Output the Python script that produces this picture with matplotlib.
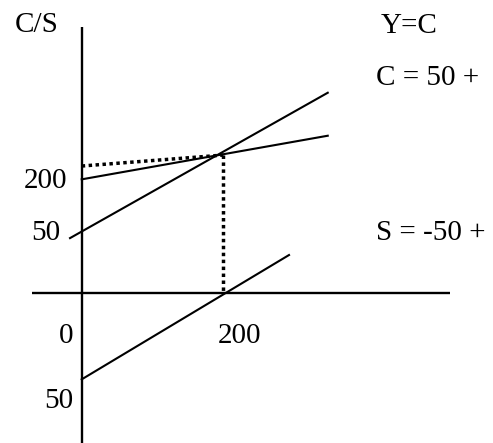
import matplotlib
matplotlib.use("Agg")
import matplotlib.pyplot as plt

# schematic income / consumption diagram (values in diagram units)
yc_x = [-16.5, 347.5]        # Y=C line
yc_y = [78, 283.3]
cons_x = [0, 347.5]          # C = 50 + ...
cons_y = [161, 222.6]
sav_x = [0, 292.8]           # S = -50 + ...
sav_y = [-121.5, 54.1]
eq_x = 200                   # equilibrium income
eq_y = [179.8, 195.3]        # dotted guide (left end, right end)

xaxis_range = [-70, 520]
yaxis_range = [-215, 376]

plt.rcParams['font.family'] = ['Liberation Serif', 'DejaVu Serif']

fig = plt.figure(figsize=(4.93, 4.43), dpi=100)
ax = fig.add_axes([0, 0, 1, 1])
ax.set_xlim(-115.4, 580.9)
ax.set_ylim(-211.4, 414.3)
ax.axis('off')

# axes
ax.plot(xaxis_range, [0, 0], color='black', lw=1.7, solid_capstyle='butt')
ax.plot([0, 0], yaxis_range, color='black', lw=1.7, solid_capstyle='butt')

# curves
ax.plot(yc_x, yc_y, color='black', lw=1.5)
ax.plot(cons_x, cons_y, color='black', lw=1.5)
ax.plot(sav_x, sav_y, color='black', lw=1.5)

# dotted guides to equilibrium
ax.plot([0, eq_x], eq_y, color='black', lw=2.5, linestyle=(0, (1, 1)))
ax.plot([eq_x, eq_x], [eq_y[1], 0], color='black', lw=2.5, linestyle=(0, (1, 1)))

fs = 21
ax.text(-63, 369, 'C/S', fontsize=fs, ha='center', va='baseline')
ax.text(-20.6, 148.7, '200', fontsize=fs, ha='right', va='baseline')
ax.text(-30.6, 75.3, '50', fontsize=fs, ha='right', va='baseline')
ax.text(-21.7, -70, '0', fontsize=fs, ha='center', va='baseline')
ax.text(222.9, -70, '200', fontsize=fs, ha='center', va='baseline')
ax.text(-12.3, -162, '50', fontsize=fs, ha='right', va='baseline')

ax.text(423, 367.7, 'Y=C', fontsize=fs, ha='left', va='baseline')
ax.text(415.5, 294, 'C = 50 +', fontsize=fs, ha='left', va='baseline')
ax.text(415.5, 75.3, 'S = -50 +', fontsize=fs, ha='left', va='baseline')

fig.savefig('out.png', dpi=100)
